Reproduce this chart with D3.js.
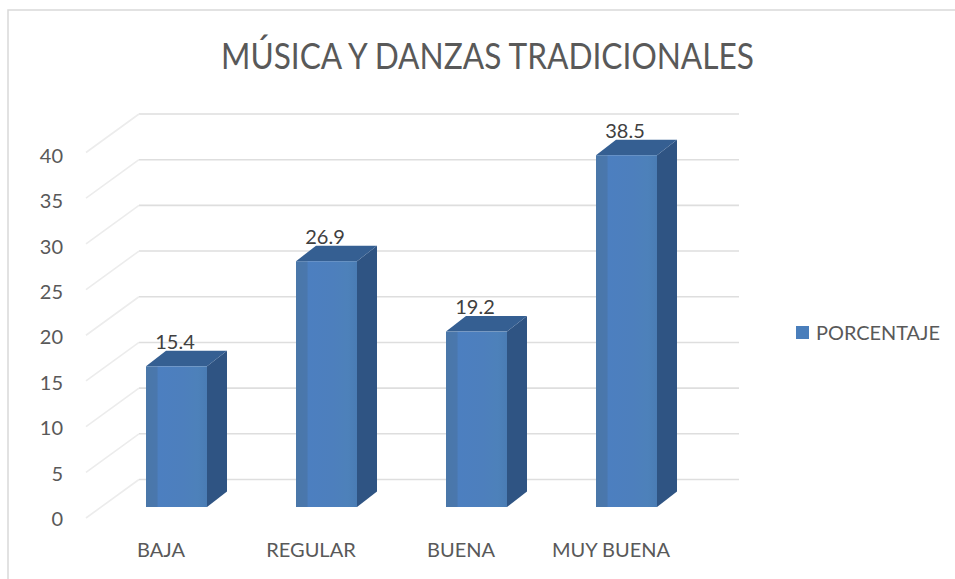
<!DOCTYPE html>
<html>
<head>
<meta charset="utf-8">
<script src="https://cdn.jsdelivr.net/npm/d3@7"></script>
<style>
html,body{margin:0;padding:0;background:#fff;overflow:hidden}
svg{display:block}
text{font-family:Lato,"Open Sans",sans-serif}
</style>
</head>
<body>
<svg id="c" width="955" height="579"></svg>
<script>
const categories = ["BAJA", "REGULAR", "BUENA", "MUY BUENA"];
const values = [15.4, 26.9, 19.2, 38.5];
const yTicks = [0, 5, 10, 15, 20, 25, 30, 35, 40];
const titleText = "MÚSICA Y DANZAS TRADICIONALES";
const seriesName = "PORCENTAJE";

const svg = d3.select("#c");
const defs = svg.append("defs");
const grad = defs.append("linearGradient").attr("id", "front");
[[0, "#4a77a9"], [0.18, "#4a77ad"], [0.2, "#4c7fc0"], [0.6, "#4d7fbd"], [0.85, "#4d81ba"], [1, "#4a7cb4"]]
  .forEach(([o, c]) => grad.append("stop").attr("offset", o).attr("stop-color", c));

// Frame: only the top and left edges are visible in the reference
svg.append("path").attr("d", "M8,579V10H955").attr("fill", "none").attr("stroke", "#d9d9d9").attr("stroke-width", 1.5);

// Scales
const yWall = d3.scaleLinear().domain([0, 40]).range([479.5, 114]);
const yFloor = d3.scaleLinear().domain([0, 40]).range([518, 152.5]);
const yBar = d3.scaleLinear().domain([0, 40]).range([507, 141.5]);
const yLabel = d3.scaleLinear().domain([0, 40]).range([519, 156]);
const x = d3.scaleBand().domain(categories).range([101.5, 701.5]);
const barW = 61, depthX = 20, depthY = 15.5;

// Gridlines: back wall and receding side wall
const grid = svg.append("g").attr("fill", "none").attr("stroke", "#dedede").attr("stroke-width", 1.6)
  .style("filter", "blur(0.4px)");
grid.selectAll(".wall").data(yTicks).join("line")
  .attr("x1", 139).attr("x2", 739)
  .attr("y1", d => yWall(d)).attr("y2", d => yWall(d));
grid.selectAll(".side").data(yTicks).join("line")
  .attr("stroke", "#ececec")
  .attr("x1", 86).attr("x2", 139)
  .attr("y1", d => yFloor(d)).attr("y2", d => yWall(d));

// Bars
const bars = svg.append("g").selectAll("g").data(categories).join("g");
const left = d => x(d) + x.bandwidth() / 2 - barW / 2;
const top_ = (d, i) => yBar(values[i]);
bars.append("path").attr("fill", "#2f5483")
  .attr("d", (d, i) => {
    const r = left(d) + barW, t = top_(d, i), b = yBar(0);
    return `M${r},${t}L${r + depthX},${t - depthY}V${b - depthY}L${r},${b}Z`;
  });
bars.append("path").attr("fill", "#355f92")
  .attr("d", (d, i) => {
    const l = left(d), t = top_(d, i);
    return `M${l},${t}L${l + depthX},${t - depthY}H${l + barW + depthX}L${l + barW},${t}Z`;
  });
bars.append("rect").attr("fill", "url(#front)")
  .attr("x", left).attr("y", top_)
  .attr("width", barW).attr("height", (d, i) => yBar(0) - top_(d, i));

// Data labels
svg.append("g").selectAll("text").data(categories).join("text")
  .attr("x", d => x(d) + x.bandwidth() / 2 - 1.5)
  .attr("y", (d, i) => yBar(values[i]) - 24.5)
  .attr("dy", "0.36em")
  .attr("text-anchor", "middle").attr("font-size", 20).attr("fill", "#404040")
  .text((d, i) => values[i].toFixed(1));

// Y axis labels
const yAxis = svg.append("g").attr("transform", "translate(63,0)")
  .call(d3.axisLeft(yLabel).tickValues(yTicks).tickSize(0).tickPadding(0).tickFormat(d3.format("d")));
yAxis.select(".domain").remove();
yAxis.selectAll("text").attr("font-size", 20).attr("fill", "#595959").style("font-family", 'Lato,sans-serif');

// X axis labels
const xAxis = svg.append("g").attr("transform", "translate(-15.5,543)")
  .call(d3.axisBottom(x).tickSize(0).tickPadding(0));
xAxis.select(".domain").remove();
xAxis.selectAll("text").attr("font-size", 20).attr("fill", "#595959")
  .style("font-family", 'Lato,sans-serif')
  .attr("y", 0).attr("dy", "0.71em");

// Title
svg.append("text").attr("x", 487.5).attr("y", 69).attr("text-anchor", "middle")
  .attr("font-size", 36).attr("fill", "#595959")
  .attr("textLength", 533).attr("lengthAdjust", "spacingAndGlyphs").text(titleText);

// Legend
svg.append("rect").attr("x", 796).attr("y", 326).attr("width", 13).attr("height", 13).attr("fill", "#4a7ebb");
svg.append("text").attr("x", 816).attr("y", 333).attr("dy", "0.36em")
  .attr("font-size", 20).attr("fill", "#595959")
  .attr("textLength", 124).attr("lengthAdjust", "spacingAndGlyphs").text(seriesName);
</script>
</body>
</html>
